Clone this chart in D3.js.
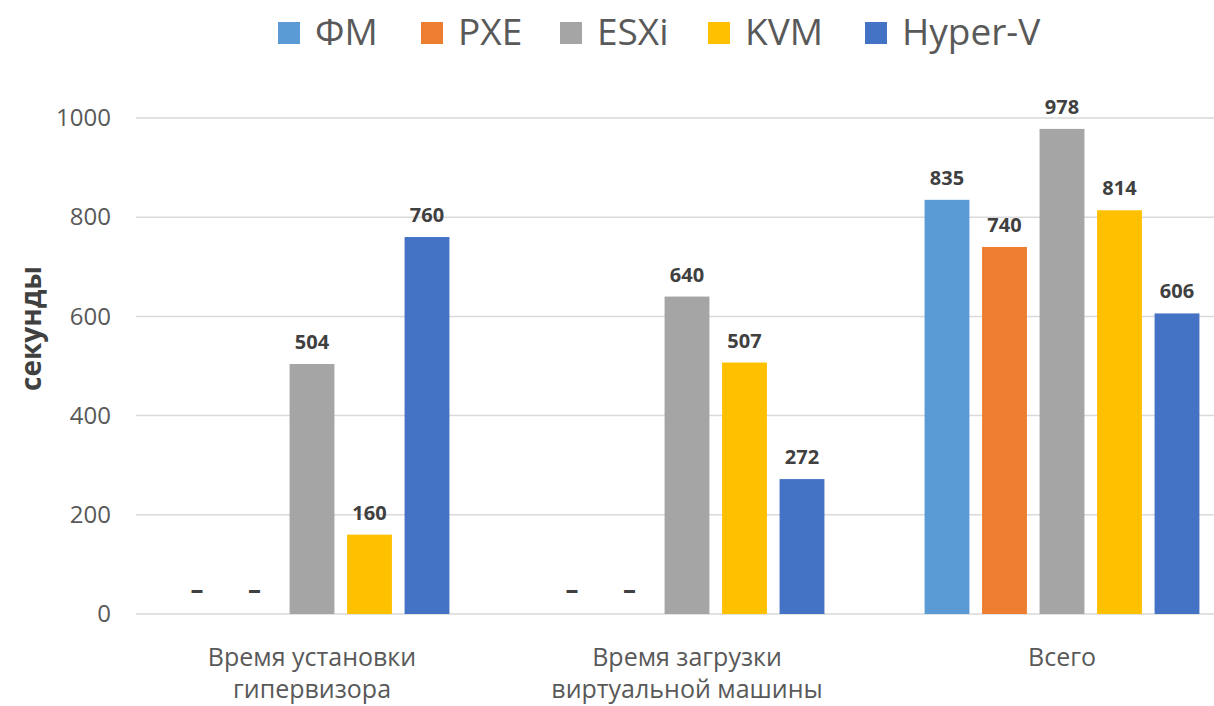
<!DOCTYPE html>
<html>
<head>
<meta charset="utf-8">
<script src="https://cdn.jsdelivr.net/npm/d3@7"></script>
<style>
  body { margin: 0; background: #fff; }
  svg { display: block; font-family: "Open Sans", "Noto Sans", sans-serif; }
</style>
</head>
<body>
<svg id="chart" width="1214" height="706"></svg>
<script>
// --- data ---
const categories = [["Время установки", "гипервизора"], ["Время загрузки", "виртуальной машины"], ["Всего"]];
const seriesNames = ["ФМ", "PXE", "ESXi", "KVM", "Hyper-V"];
const seriesColors = ["#5B9BD5", "#ED7D31", "#A5A5A5", "#FFC000", "#4472C4"];
// null = no measurement, label shown as a dash
const fmValues     = [null, null, 835];
const pxeValues    = [null, null, 740];
const esxiValues   = [504, 640, 978];
const kvmValues    = [160, 507, 814];
const hyperVValues = [760, 272, 606];
const yTicks = [0, 200, 400, 600, 800, 1000];

const allValues = [fmValues, pxeValues, esxiValues, kvmValues, hyperVValues];

const svg = d3.select("#chart");
const width = +svg.attr("width");
const height = +svg.attr("height");

const plotLeft = 136;
const x0 = d3.scaleBand().domain(d3.range(categories.length)).range([124.5, 1249.5]);
const x1 = d3.scaleBand().domain(seriesNames).range([0, 287.5]).paddingInner(0.22).paddingOuter(0.11);
const y = d3.scaleLinear().domain([0, 1000]).range([614, 118]);

// gridlines
svg.append("g").selectAll("line").data(yTicks).join("line")
  .attr("x1", plotLeft).attr("x2", width)
  .attr("y1", d => y(d)).attr("y2", d => y(d))
  .attr("stroke", "#d9d9d9")
  .attr("stroke-width", 1.5);

// y axis labels
const yAxis = d3.axisLeft(y).tickValues(yTicks).tickSize(0).tickPadding(0).tickFormat(d3.format("d"));
const gY = svg.append("g").attr("transform", "translate(111,0)").call(yAxis);
gY.select(".domain").remove();
gY.selectAll("text")
  .attr("font-family", "Open Sans, Noto Sans, sans-serif")
  .attr("font-size", 24)
  .attr("fill", "#595959");

// y axis title
svg.append("text")
  .attr("transform", `translate(41, ${y(600) + 12}) rotate(-90)`)
  .attr("text-anchor", "middle")
  .attr("font-size", 28)
  .attr("font-weight", "bold")
  .attr("fill", "#404040")
  .text("секунды");

// bars
const rows = categories.map((c, i) => ({
  i,
  items: seriesNames.map((s, k) => ({ s, k, v: allValues[k][i] }))
}));

const groups = svg.append("g").selectAll("g").data(rows).join("g")
  .attr("transform", d => `translate(${x0(d.i) + x0.bandwidth() / 2 - 143.75},0)`);

groups.selectAll("rect").data(d => d.items.filter(e => e.v != null)).join("rect")
  .attr("x", d => x1(d.s))
  .attr("width", x1.bandwidth())
  .attr("y", d => y(d.v))
  .attr("height", d => y(0) - y(d.v))
  .attr("fill", d => seriesColors[d.k]);

groups.selectAll("text").data(d => d.items).join("text")
  .attr("x", d => x1(d.s) + x1.bandwidth() / 2)
  .attr("y", d => y(d.v == null ? 0 : d.v) - 15)
  .attr("text-anchor", "middle")
  .attr("font-size", d => d.v == null ? 26 : 20)
  .attr("font-weight", "bold")
  .attr("fill", "#404040")
  .text(d => d.v == null ? "–" : d.v);

// category labels
const catG = svg.append("g").selectAll("text").data(categories).join("text")
  .attr("x", (d, i) => x0(i) + x0.bandwidth() / 2)
  .attr("y", 666)
  .attr("text-anchor", "middle")
  .attr("font-size", 25)
  .attr("fill", "#595959");
catG.selectAll("tspan").data(d => d).join("tspan")
  .attr("x", function () { return d3.select(this.parentNode).attr("x"); })
  .attr("dy", (d, i) => i === 0 ? 0 : 32)
  .text(d => d);

// legend
const legendX = [278, 421, 560, 708, 865];
const legend = svg.append("g").selectAll("g").data(seriesNames).join("g")
  .attr("transform", (d, i) => `translate(${legendX[i]},0)`);
legend.append("rect")
  .attr("x", 0).attr("y", 22)
  .attr("width", 22).attr("height", 22)
  .attr("fill", (d, i) => seriesColors[i]);
legend.append("text")
  .attr("x", 37).attr("y", 45)
  .attr("font-size", 37)
  .attr("fill", "#595959")
  .text(d => d);
</script>
</body>
</html>
